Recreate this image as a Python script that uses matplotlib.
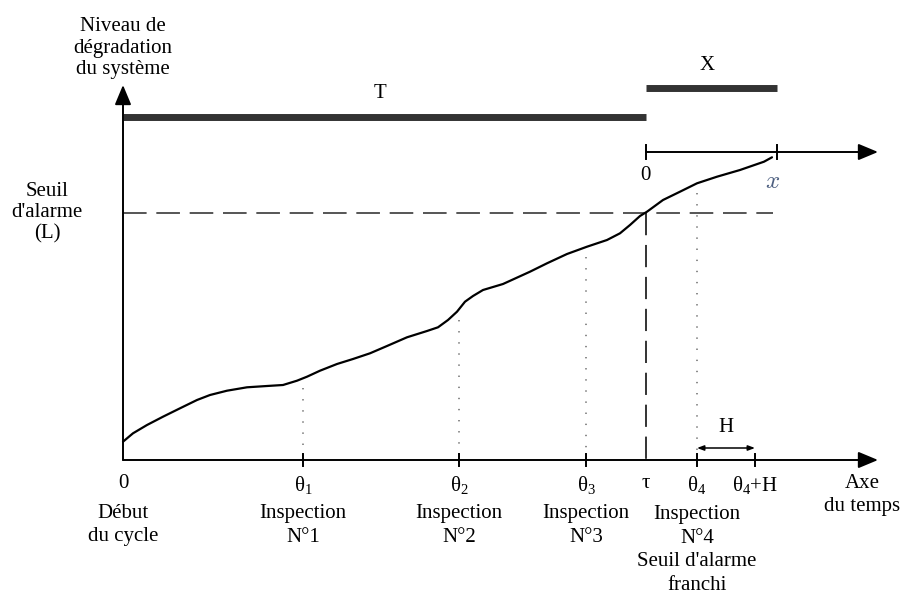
import matplotlib
matplotlib.use("Agg")
import matplotlib.pyplot as plt

plt.rcParams['font.family'] = ['Liberation Serif', 'DejaVu Serif']
plt.rcParams['mathtext.fontset'] = 'custom'
plt.rcParams['mathtext.rm'] = 'Liberation Serif'
plt.rcParams['mathtext.it'] = 'Liberation Serif:italic'
plt.rcParams['lines.scale_dashes'] = False

# ---- data (time units along the axis, degradation level units) ----
curve_t = [0, 10, 24, 40, 57, 74, 87, 104, 124, 144, 160, 174, 184, 197, 214,
           230, 247, 264, 284, 304, 315, 325, 334, 342, 350, 360, 380, 407,
           424, 444, 464, 484, 497, 507, 517, 524, 540, 557, 574, 594, 617,
           641, 649]
curve_lv = [18.3, 26.7, 35, 43.3, 51.7, 60, 65, 69.3, 72.7, 74, 75, 79.3, 83.3,
            89.3, 96, 101, 106.7, 114, 122.7, 129, 132.7, 140, 148.3, 158.3,
            164, 170, 176, 188.3, 196.7, 206, 213.3, 220, 226.7, 235, 244,
            248.3, 260, 268.3, 276.7, 283.3, 290, 298.3, 302.7]

inspection_times = [180, 336, 463, 574]
inspection_dot_top = [72, 140, 203, 267]
inspection_ticks = [r'$\mathrm{θ}_{1}$', r'$\mathrm{θ}_{2}$', r'$\mathrm{θ}_{3}$', r'$\mathrm{θ}_{4}$']
inspection_labels = ['Inspection\nN°1', 'Inspection\nN°2', 'Inspection\nN°3',
                     "Inspection\nN°4\nSeuil d'alarme\nfranchi"]
tau = 523
horizon_H = 58
threshold_L = 247.5
x_end = 654
time_axis_end = 755
level_axis_end = 375
T_level = 343
X_level = 372
local_axis_level = 308
H_level = 12

fig = plt.figure(figsize=(9.03, 5.94), dpi=100)
ax = fig.add_axes([0, 0, 1, 1])
ax.set_xlim(-123, 780)
ax.set_ylim(-134, 460)
ax.axis('off')

FS = 15
ap = dict(arrowstyle='-|>,head_length=0.6,head_width=0.25', color='black', lw=1.4,
          shrinkA=0, shrinkB=0, mutation_scale=20)
# main axes
ax.annotate('', xy=(time_axis_end, 0), xytext=(0, 0), arrowprops=ap)
ax.annotate('', xy=(0, level_axis_end), xytext=(0, 0), arrowprops=ap)
# local time axis (x)
ax.annotate('', xy=(time_axis_end, local_axis_level), xytext=(tau, local_axis_level), arrowprops=ap)
for t in [tau, x_end]:
    ax.plot([t, t], [local_axis_level - 7, local_axis_level + 7], color='black', lw=1.4)

# T and X bars
ax.plot([0, tau], [T_level, T_level], color='#333333', lw=5, solid_capstyle='butt')
ax.plot([tau, x_end], [X_level, X_level], color='#333333', lw=5, solid_capstyle='butt')
ax.text(257, T_level + 24, 'T', fontsize=FS, ha='center', va='center')
ax.text(584, X_level + 23, 'X', fontsize=FS, ha='center', va='center')

# threshold
ax.plot([0, x_end - 4], [threshold_L, threshold_L], color='#555555', lw=1.4, dashes=(17, 7))
ax.plot([tau, tau], [threshold_L, 0], color='#333333', lw=1.4, dashes=(16, 7))

# degradation curve
ax.plot(curve_t, curve_lv, color='black', lw=1.6, solid_capstyle='round', solid_joinstyle='round')

# inspections
for t, top, tk, lab in zip(inspection_times, inspection_dot_top, inspection_ticks, inspection_labels):
    ax.plot([t, t], [top, 0], color='#777777', lw=1.2, dashes=(1, 7))
    ax.plot([t, t], [-6, 6], color='black', lw=1.4)
    ax.text(t, -25, tk, fontsize=FS, ha='center', va='center')
    nlines = lab.count('\n') + 1
    ax.text(t, -53 - (nlines - 1) * 12.3, lab, fontsize=FS, ha='center', va='center',
            linespacing=1.32)

# theta4 + H
ax.plot([inspection_times[3] + horizon_H] * 2, [-6, 6], color='black', lw=1.4)
ax.text(inspection_times[3] + horizon_H, -25, r'$\mathrm{θ}_{4}\mathrm{+H}$', fontsize=FS,
        ha='center', va='center')
ax.annotate('', xy=(inspection_times[3] + horizon_H, H_level), xytext=(inspection_times[3], H_level),
            arrowprops=dict(arrowstyle='<|-|>,head_length=0.4,head_width=0.15', color='black', lw=1.1,
                            shrinkA=0, shrinkB=0, mutation_scale=10))
ax.text(inspection_times[3] + horizon_H / 2, H_level + 20, 'H', fontsize=FS, ha='center', va='center')

# other labels
ax.text(0, -23, '0', fontsize=FS, ha='center', va='center')
ax.text(0, -65, 'Début\ndu cycle', fontsize=FS, ha='center', va='center', linespacing=1.32)
ax.text(tau, -23, 'τ', fontsize=FS, ha='center', va='center')
ax.text(739, -35, 'Axe\ndu temps', fontsize=FS, ha='center', va='center', linespacing=1.32)
ax.text(0, 412, 'Niveau de\ndégradation\ndu système', fontsize=FS, ha='center', va='center',
        linespacing=1.18)
ax.text(-76, 247, "Seuil\nd'alarme\n(L)", fontsize=FS, ha='center', va='center', linespacing=1.15)
ax.text(tau - 1, 284, '0', fontsize=FS, ha='center', va='center')
ax.text(650, 278, r'$x$', fontsize=FS + 3, ha='center', va='center', color='#4d5f80',
        math_fontfamily='cm')

fig.savefig('out.png', dpi=100)
